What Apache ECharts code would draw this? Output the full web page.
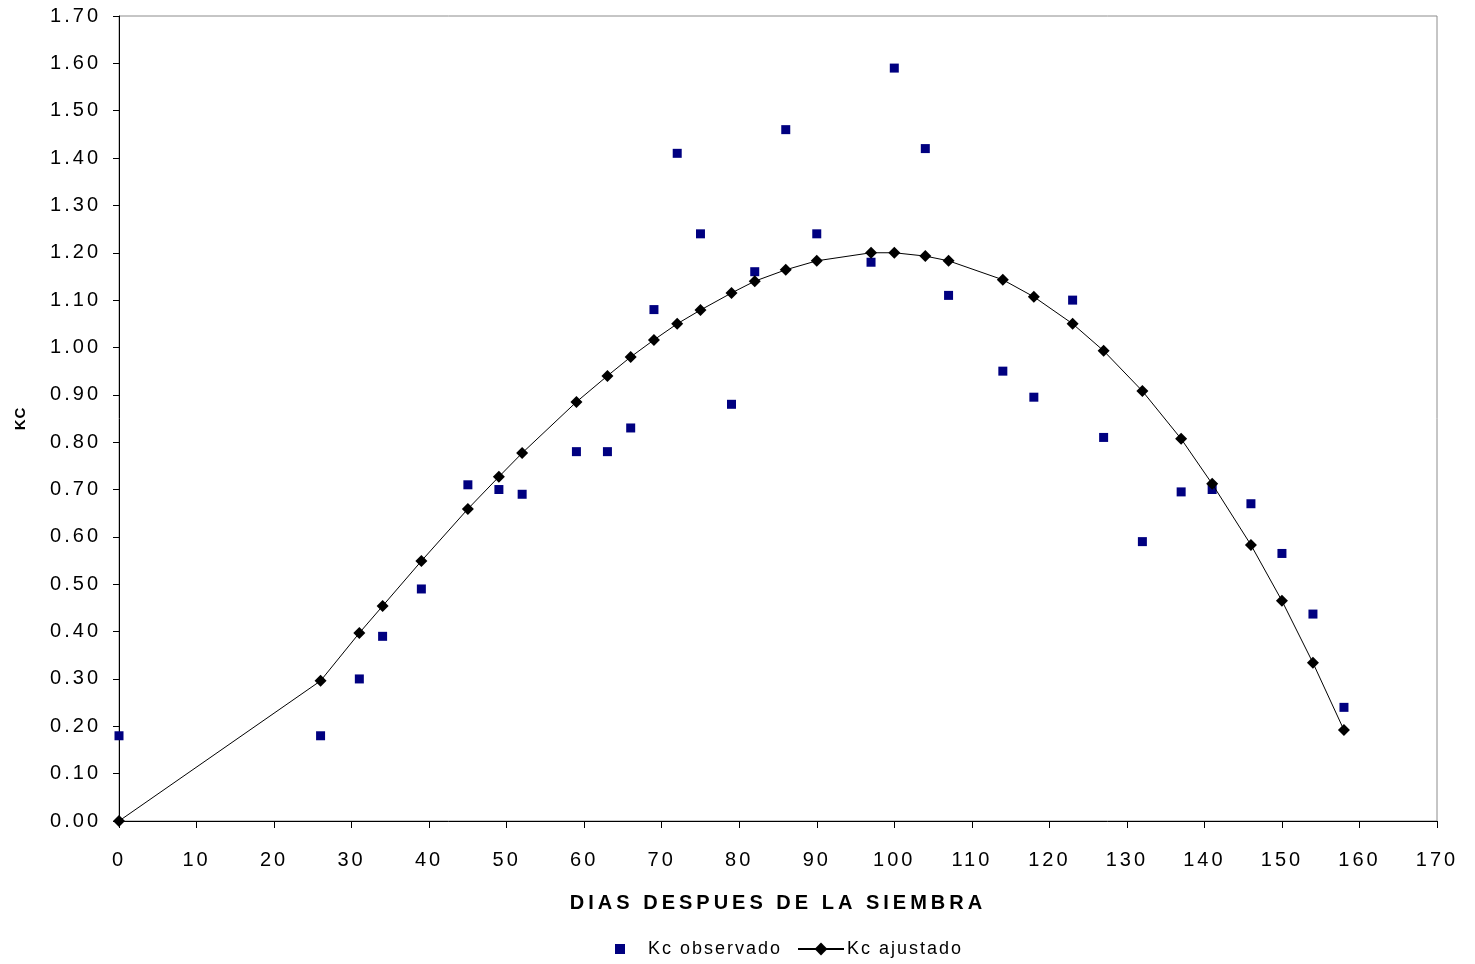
<!DOCTYPE html>
<html>
<head>
<meta charset="utf-8">
<script src="https://cdn.jsdelivr.net/npm/echarts@6/dist/echarts.min.js"></script>
<style>
html,body{margin:0;padding:0;background:#fff;}
#c{width:1475px;height:964px;}
</style>
</head>
<body>
<div id="c"></div>
<script>
// Days after sowing
const days = [0,26,31,34,39,45,49,52,59,63,66,69,72,75,79,82,86,90,97,100,104,107,114,118,123,127,132,137,141,146,150,154,158];
// Kc observed
const kcObservado = [0.18,0.18,0.30,0.39,0.49,0.71,0.70,0.69,0.78,0.78,0.83,1.08,1.41,1.24,0.88,1.16,1.46,1.24,1.18,1.59,1.42,1.11,0.95,0.895,1.10,0.81,0.59,0.695,0.70,0.67,0.565,0.437,0.24];
// Kc fitted
const kcAjustado = [0,0.296,0.397,0.454,0.549,0.659,0.727,0.777,0.885,0.94,0.98,1.016,1.05,1.079,1.115,1.14,1.164,1.183,1.20,1.20,1.193,1.183,1.143,1.107,1.05,0.993,0.908,0.807,0.712,0.583,0.465,0.334,0.192];
const seriesNames = ['Kc observado','Kc ajustado'];
const xTitle = 'DIAS DESPUES DE LA SIEMBRA';
const yTitle = 'KC';

// letter spacing like the original (canvas letterSpacing, applied to drawing and measuring)
(function(){
  const P = CanvasRenderingContext2D.prototype;
  if (!('letterSpacing' in P)) return;
  function sp(font){
    const m = /(\d+)px/.exec(font); const s = m ? +m[1] : 12; const bold = /bold|700/.test(font);
    if (s >= 20) return bold ? '4px' : '3px';
    if (s >= 17) return '2px';
    return '1px';
  }
  const f = P.fillText, mt = P.measureText;
  P.fillText = function(){ this.letterSpacing = sp(this.font); return f.apply(this, arguments); };
  P.measureText = function(){ this.letterSpacing = sp(this.font); return mt.apply(this, arguments); };
})();

const font = 'Liberation Sans, Arial, sans-serif';
const chart = echarts.init(document.getElementById('c'));
chart.setOption({
  animation:false,
  backgroundColor:'#fff',
  grid:{left:119,right:38,top:16,bottom:143,show:true,borderColor:'#8c8c8c',borderWidth:1,backgroundColor:'transparent'},
  legend:[
    {data:[seriesNames[0]],left:610,top:934,itemWidth:10,itemHeight:10,icon:'rect',
     textStyle:{fontFamily:font,fontSize:18,color:'#000',padding:[0,0,0,18]}},
    {data:[seriesNames[1]],left:792,top:934,itemWidth:46,itemHeight:16,
     textStyle:{fontFamily:font,fontSize:18,color:'#000',padding:[0,0,0,-2]}}
  ],
  xAxis:{type:'value',min:0,max:170,interval:10,
    name:xTitle,nameLocation:'middle',nameGap:70,
    nameTextStyle:{fontFamily:font,fontSize:20,fontWeight:'bold',color:'#000'},
    axisLine:{show:true,onZero:false,lineStyle:{color:'#000',width:1}},
    axisTick:{show:true,length:7,inside:false,lineStyle:{color:'#000'}},
    axisLabel:{fontFamily:font,fontSize:20,color:'#000',margin:28},
    splitLine:{show:false}},
  yAxis:{type:'value',min:0,max:1.7,interval:0.1,
    name:yTitle,nameLocation:'middle',nameGap:90,nameRotate:90,
    nameTextStyle:{fontFamily:font,fontSize:15,fontWeight:'bold',color:'#000'},
    axisLine:{show:true,onZero:false,lineStyle:{color:'#000',width:1}},
    axisTick:{show:true,length:6,inside:false,lineStyle:{color:'#000'}},
    axisLabel:{fontFamily:font,fontSize:20,color:'#000',margin:18,formatter:v=>v.toFixed(2)},
    splitLine:{show:false}},
  series:[
    {name:seriesNames[0],type:'scatter',symbol:'rect',symbolSize:9,
     itemStyle:{color:'#000080',opacity:1},
     data:days.map((d,i)=>[d,kcObservado[i]])},
    {name:seriesNames[1],type:'line',symbol:'diamond',symbolSize:12,showAllSymbol:true,
     itemStyle:{color:'#000',opacity:1},lineStyle:{color:'#000',width:1},
     data:days.map((d,i)=>[d,kcAjustado[i]])}
  ]
});
</script>
</body>
</html>
